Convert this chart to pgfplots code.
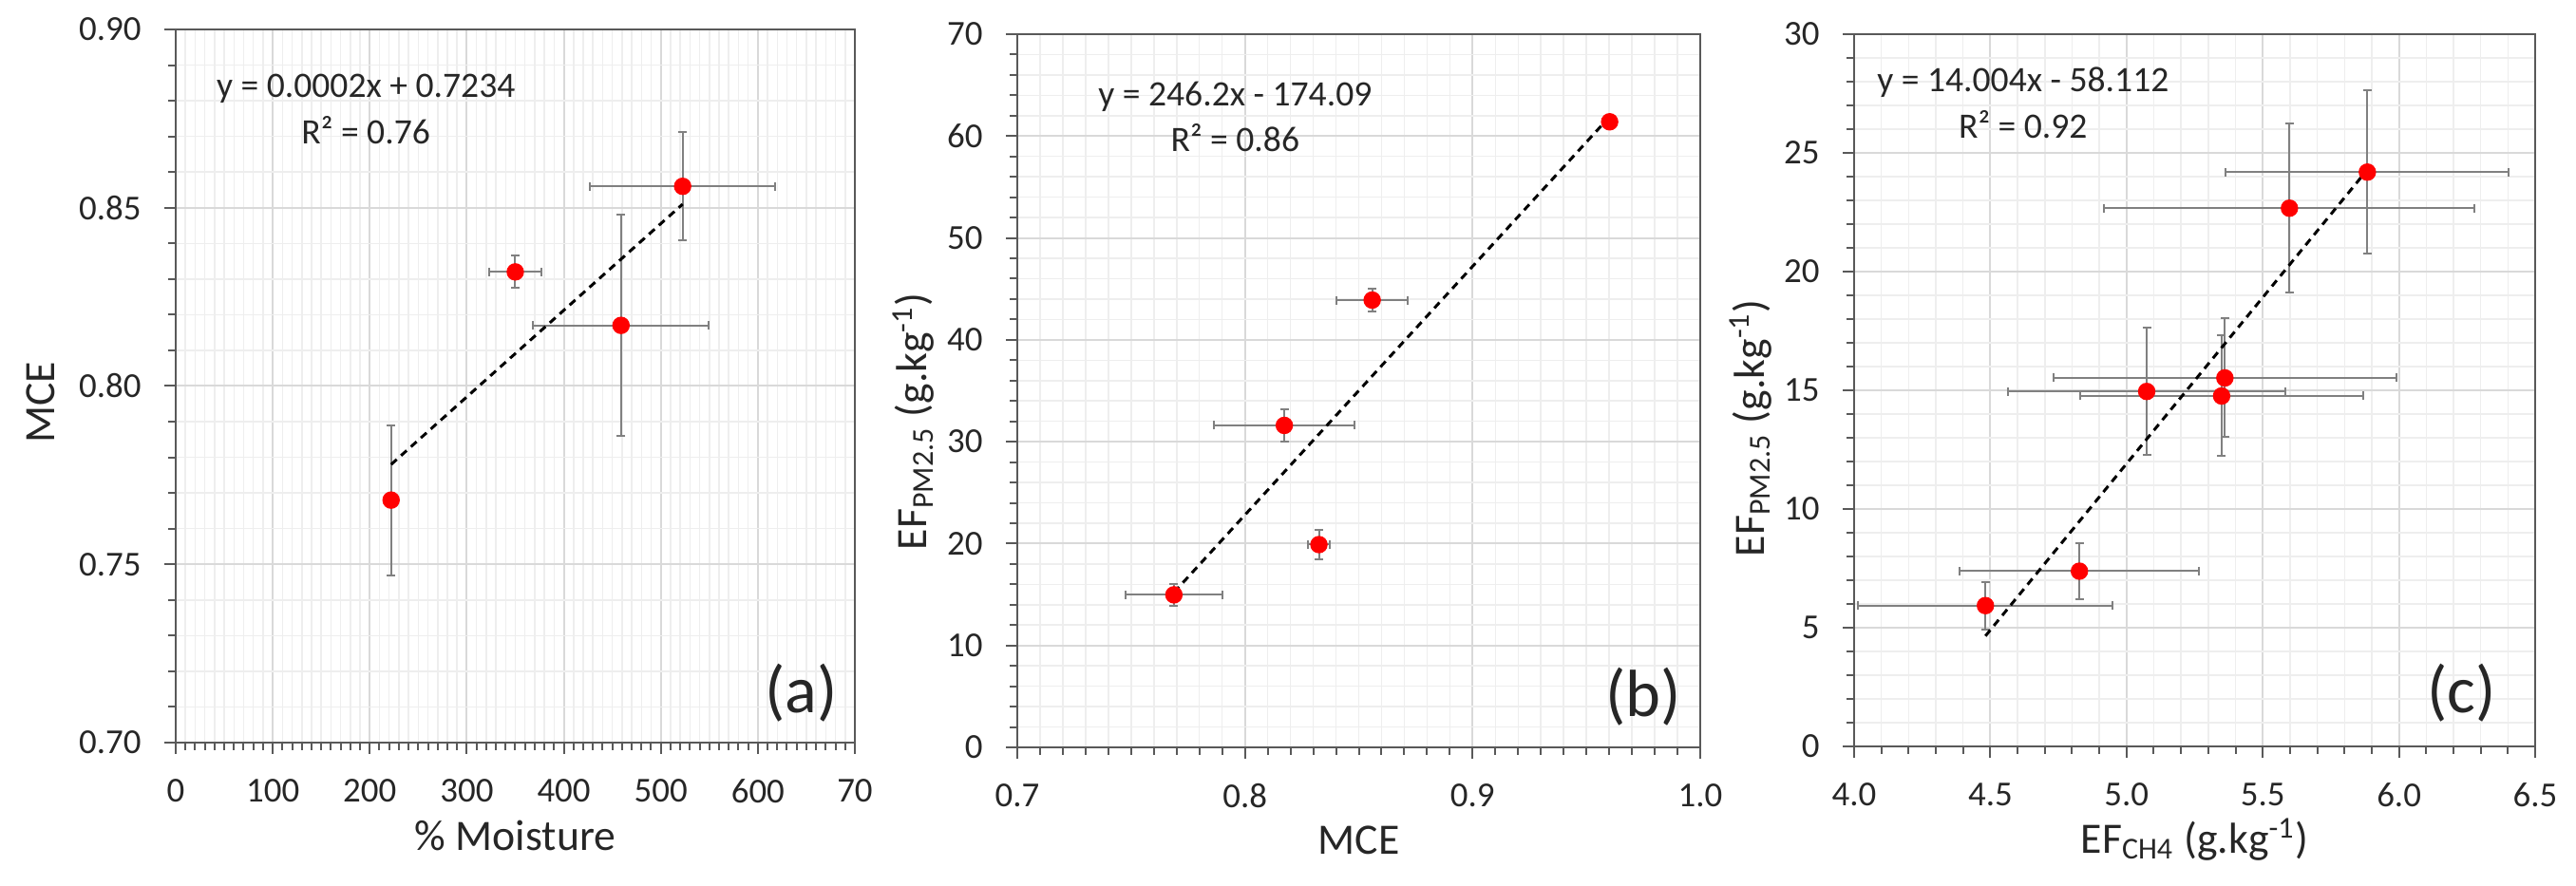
\documentclass[border=0pt]{standalone}
\usepackage{fontspec}
\setmainfont{Carlito}
\usepackage{pgfplots}
\usepackage{pgfplotstable}
\pgfplotsset{compat=1.18}

\definecolor{axgray}{HTML}{595959}
\definecolor{gridmaj}{HTML}{D9D9D9}
\definecolor{gridmin}{HTML}{EEEEEE}
\definecolor{errgray}{HTML}{808080}
\definecolor{txt}{HTML}{262626}

\pgfplotstableread{
x y ex ey
222 0.768 0 0.021
350 0.832 27 0.0045
459 0.817 90.6 0.031
522.5 0.856 95.7 0.0152
}\dataA

\pgfplotstableread{
x y ex ey
0.7688 14.97 0.0212 1.1
0.8173 31.6 0.031 1.6
0.8325 19.9 0.0048 1.4
0.8559 43.9 0.0155 1.1
0.9602 61.4 0 0
}\dataB

\pgfplotstableread{
x y ex ey
4.482 5.93 0.468 1.0
4.827 7.38 0.44 1.17
5.074 14.95 0.51 2.67
5.349 14.76 0.52 2.54
5.361 15.52 0.63 2.5
5.598 22.67 0.68 3.56
5.884 24.19 0.52 3.44
}\dataC

\tikzset{
  eqn/.style={font=\fontsize{10.7}{12}\selectfont, text=txt},
  panel/.style={font=\fontsize{20}{22}\selectfont, text=txt},
}

\pgfplotsset{
  myaxis/.style={
    scale only axis,
    axis line style={axgray, line width=0.25mm},
    tick style={axgray, line width=0.2mm},
    major tick length=1.2mm, minor tick length=0.8mm,
    tick align=outside,
    xtick pos=left, ytick pos=left,
    grid=both,
    major grid style={gridmaj, line width=0.2mm},
    minor grid style={gridmin, line width=0.15mm},
    tick label style={font=\fontsize{10.5}{12}\selectfont, text=txt},
    xticklabel style={yshift=-1.4mm},
    yticklabel style={xshift=-1.2mm},
    label style={font=\fontsize{13}{15}\selectfont, text=txt},
    /pgf/number format/assume math mode=true,
    xlabel style={at={(axis description cs:0.5,0)}, anchor=center, yshift=-9.8mm},
  },
  scat/.style={
    only marks, mark=*, mark size=0.85mm,
    mark options={fill=red, draw=red},
    error bars/.cd,
      x dir=both, x explicit, y dir=both, y explicit,
      error bar style={errgray, line width=0.2mm},
      error mark options={rotate=90, mark size=0.45mm, errgray, line width=0.2mm},
  },
  trend/.style={black, line width=0.3mm, dash pattern=on 0.8mm off 0.6mm, no marks},
}

\begin{document}
\begin{tikzpicture}
\path[use as bounding box] (0,0) rectangle (271.2mm,93.3mm);

% (a)
\begin{axis}[myaxis,
  at={(18.5mm,15.1mm)}, anchor=south west,
  width=71.5mm, height=75.1mm,
  xmin=0, xmax=700, ymin=0.7, ymax=0.9,
  xtick={0,100,200,300,400,500,600,700},
  xticklabels={0,100,200,300,400,500,600,70},
  ytick={0.7,0.75,0.8,0.85,0.9},
  minor x tick num=9, minor y tick num=4,
  yticklabel style={/pgf/number format/.cd, fixed, fixed zerofill, precision=2},
  xlabel={\% Moisture},
  ylabel={MCE},
  ylabel style={at={(axis description cs:-0.199,0.477)}, anchor=center},
]
\addplot[scat] table[x=x, y=y, x error=ex, y error=ey] {\dataA};
\addplot[trend] coordinates {(222,0.778) (522.5,0.851)};
\node[eqn] at (axis cs:196,0.8835) {y = 0.0002x + 0.7234};
\node[eqn] at (axis cs:196,0.8716) {R² = 0.76};
\node[panel] at (axis cs:645,0.714) {(a)};
\end{axis}

% (b)
\begin{axis}[myaxis,
  at={(107.1mm,14.6mm)}, anchor=south west,
  width=71.9mm, height=75.1mm,
  xmin=0.7, xmax=1.0, ymin=0, ymax=70,
  xtick={0.7,0.8,0.9,1.0},
  ytick={0,10,20,30,40,50,60,70},
  minor x tick num=9, minor y tick num=4,
  xticklabel style={/pgf/number format/.cd, fixed, fixed zerofill, precision=1},
  xlabel={MCE},
  ylabel={EF\textsubscript{PM2.5} (g.kg\textsuperscript{-1})},
  ylabel style={at={(axis description cs:-0.152,0.457)}, anchor=center},
]
\addplot[scat] table[x=x, y=y, x error=ex, y error=ey] {\dataB};
\addplot[trend] coordinates {(0.7688,15.2) (0.9602,61.9)};
\node[eqn] at (axis cs:0.7957,63.9) {y = 246.2x - 174.09};
\node[eqn] at (axis cs:0.7957,59.8) {R² = 0.86};
\node[panel] at (axis cs:0.975,5.0) {(b)};
\end{axis}

% (c)
\begin{axis}[myaxis,
  at={(195.2mm,14.7mm)}, anchor=south west,
  width=71.7mm, height=75.0mm,
  xmin=4.0, xmax=6.5, ymin=0, ymax=30,
  xtick={4.0,4.5,5.0,5.5,6.0,6.5},
  ytick={0,5,10,15,20,25,30},
  minor x tick num=4, minor y tick num=4,
  xticklabel style={/pgf/number format/.cd, fixed, fixed zerofill, precision=1},
  xlabel={EF\textsubscript{CH4} (g.kg\textsuperscript{-1})},
  ylabel={EF\textsubscript{PM2.5} (g.kg\textsuperscript{-1})},
  ylabel style={at={(axis description cs:-0.152,0.447)}, anchor=center},
]
\addplot[scat] table[x=x, y=y, x error=ex, y error=ey] {\dataC};
\addplot[trend] coordinates {(4.482,4.65) (5.884,24.29)};
\node[eqn] at (axis cs:4.62,27.96) {y = 14.004x - 58.112};
\node[eqn] at (axis cs:4.62,26.2) {R² = 0.92};
\node[panel] at (axis cs:6.229,2.26) {(c)};
\end{axis}
\end{tikzpicture}
\end{document}
